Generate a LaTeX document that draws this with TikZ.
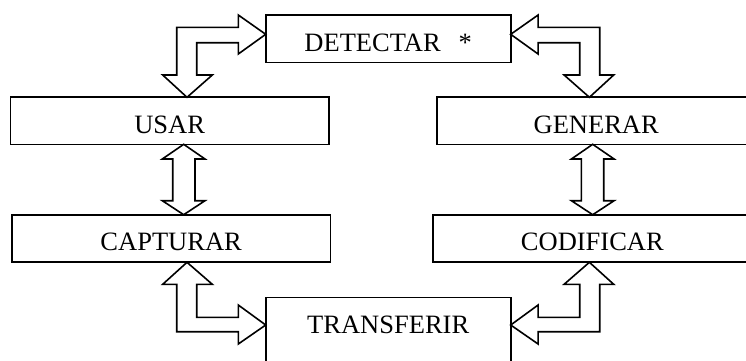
\documentclass[tikz,border=0pt]{standalone}
\usepackage{fontspec}
\setmainfont{Liberation Serif}
\begin{document}
\begin{tikzpicture}[x=1pt,y=-1pt,
  box/.style={draw,line width=1.6pt,inner sep=0pt,text height=36pt,text depth=11.3pt,
    font=\fontsize{26.5}{30}\selectfont},
  blockarrow/.style={draw,fill=white,line width=1.6pt,line join=miter}]
\useasboundingbox (0,0) rectangle (746,360);
\clip (0,0) rectangle (746,360);
% boxes
\node[box,minimum width=245pt] (detectar) at (388.2,38.65) {DETECTAR\hspace{18pt}*};
\node[box,minimum width=318.7pt] (usar) at (169.65,120.8) {USAR};
\node[box,minimum width=318.3pt] (capturar) at (171.15,238.5) {CAPTURAR};
\node[box,minimum width=318.4pt] (generar) at (596.2,120.8) {GENERAR};
\node[box,minimum width=319.3pt] (codificar) at (592.35,238.5) {CODIFICAR};
\node[box,minimum width=245pt,text depth=40pt] (transferir) at (388.2,335.3) {TRANSFERIR};
% top-left: usar <-> detectar
\draw[blockarrow] (187,97.3) -- (212.3,75) -- (196.7,75) -- (196.7,42.7) -- (238.3,42.7)
  -- (238.3,54) -- (265.7,34.3) -- (238.3,15) -- (238.3,27.3) -- (176.7,27.3)
  -- (176.7,75) -- (162.7,75) -- cycle;
% top-right: detectar <-> generar
\draw[blockarrow] (589.4,97.3) -- (564.1,75) -- (579.7,75) -- (579.7,42.7) -- (538.1,42.7)
  -- (538.1,54) -- (510.7,34.3) -- (538.1,15) -- (538.1,27.3) -- (599.7,27.3)
  -- (599.7,75) -- (613.7,75) -- cycle;
% usar <-> capturar
\draw[blockarrow] (183.7,144.3) -- (205,159) -- (195,159) -- (195,200.7) -- (205,200.7)
  -- (183.7,214.7) -- (162.3,200.7) -- (172.7,200.7) -- (172.7,159) -- (162.3,159) -- cycle;
% generar <-> codificar
\draw[blockarrow] (592.7,144.3) -- (571.4,159) -- (581.4,159) -- (581.4,200.7) -- (571.4,200.7)
  -- (592.7,214.7) -- (614.1,200.7) -- (603.7,200.7) -- (603.7,159) -- (614.1,159) -- cycle;
% capturar <-> transferir
\draw[blockarrow] (187,262.3) -- (212.3,284.3) -- (196.7,284.3) -- (196.7,317.3) -- (238.3,317.3)
  -- (238.3,305) -- (265.7,325) -- (238.3,344) -- (238.3,331.7) -- (176.7,331.7)
  -- (176.7,284.3) -- (162.7,284.3) -- cycle;
% codificar <-> transferir
\draw[blockarrow] (589.4,262.3) -- (564.1,284.3) -- (579.7,284.3) -- (579.7,317.3) -- (538.1,317.3)
  -- (538.1,305) -- (510.7,325) -- (538.1,344) -- (538.1,331.7) -- (599.7,331.7)
  -- (599.7,284.3) -- (613.7,284.3) -- cycle;
\end{tikzpicture}
\end{document}
